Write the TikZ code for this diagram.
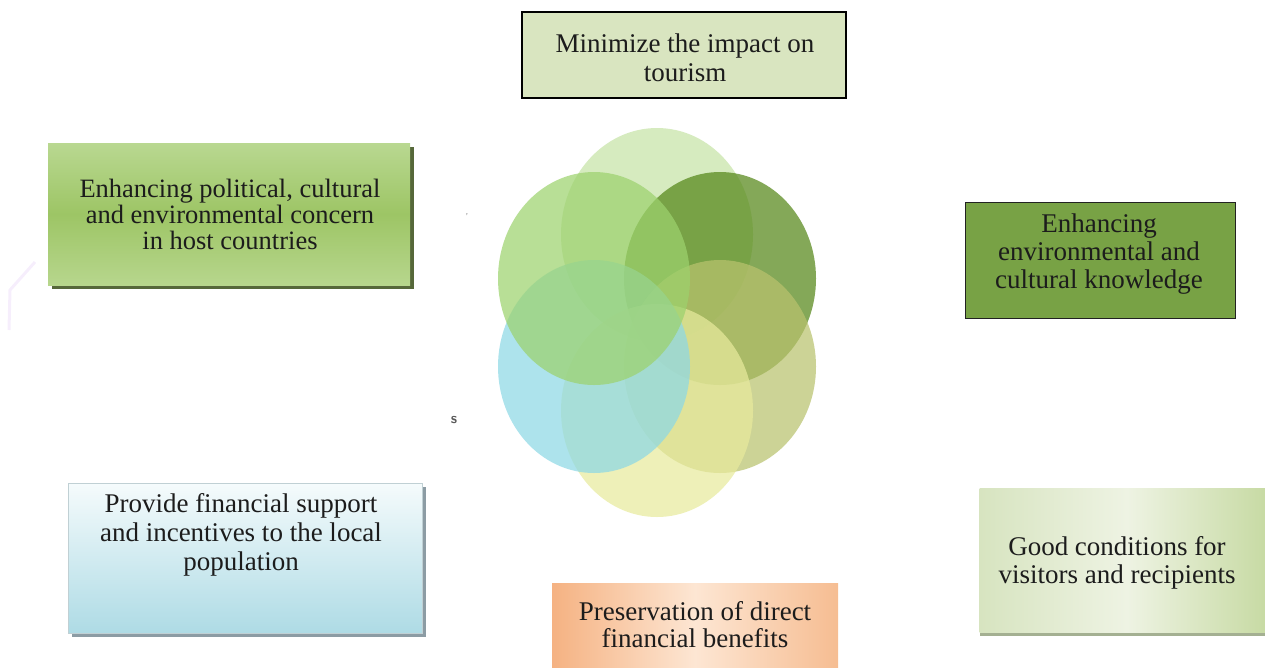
\documentclass[tikz,border=0pt]{standalone}
\usepackage{fontspec}
\setmainfont{Liberation Serif}
\usetikzlibrary{shadows}
\definecolor{inktext}{HTML}{1C1C1C}
\definecolor{petaltop}{HTML}{C6E3A7}
\definecolor{petalur}{HTML}{548617}
\definecolor{petallr}{HTML}{B9C26D}
\definecolor{petalbot}{HTML}{E7EA9C}
\definecolor{petalll}{HTML}{8DD8E5}
\definecolor{petalul}{HTML}{9CD26D}
\begin{document}
\begin{tikzpicture}[x=1pt,y=-1pt]
\tikzstyle{every node}+=[inner sep=0pt, align=center, text=inktext]
\tikzstyle{petal}=[fill opacity=0.72]
\tikzstyle{goalbox}=[rectangle, inner sep=0pt]
\useasboundingbox (0,0) rectangle (1265,667);
\fill [petal, fill=petaltop] (657,234.5) ellipse (96pt and 106.5pt);
\fill [petal, fill=petalur] (720,278.5) ellipse (96pt and 106.5pt);
\fill [petal, fill=petallr] (720,366.5) ellipse (96pt and 106.5pt);
\fill [petal, fill=petalbot] (657,410.5) ellipse (96pt and 106.5pt);
\fill [petal, fill=petalll] (594,366.5) ellipse (96pt and 106.5pt);
\fill [petal, fill=petalul] (594,278.5) ellipse (96pt and 106.5pt);
\draw [color={rgb,255:red,246;green,238;blue,252}, line width=3pt] (35,262) -- (10,290) -- (9,330);
\node (mark) [font=\sffamily\fontsize{10}{10}\selectfont, text=gray] at (467,217) {'};
\node (stray) [font=\sffamily\bfseries\fontsize{15}{15}\selectfont, text=black!65] at (454,420) {s};
\node (tourismbox) [goalbox, fill={rgb,255:red,217;green,229;blue,192}, draw=black, line width=1.2pt, minimum width=324pt, minimum height=86pt] at (684,55) {};
\node (tourism) [font=\fontsize{27}{29}\selectfont] at (685,58) {Minimize the impact on\\tourism};
\node (concernbox) [goalbox, top color={rgb,255:red,185;green,216;blue,145}, bottom color={rgb,255:red,183;green,214;blue,141}, middle color={rgb,255:red,157;green,197;blue,101}, drop shadow={shadow xshift=4pt, shadow yshift=-4pt, fill={rgb,255:red,86;green,104;blue,58}, opacity=1}, minimum width=362pt, minimum height=142pt] at (229,214) {};
\node (concern) [font=\fontsize{26.5}{26}\selectfont] at (230,214.5) {Enhancing political, cultural\\and environmental concern\\in host countries};
\node (knowledgebox) [goalbox, fill={rgb,255:red,120;green,162;blue,69}, draw={rgb,255:red,34;green,34;blue,34}, line width=1pt, minimum width=270pt, minimum height=116pt] at (1100,260) {};
\node (knowledge) [font=\fontsize{27}{28}\selectfont] at (1099,254) {Enhancing\\environmental and\\cultural knowledge};
\node (supportbox) [goalbox, top color={rgb,255:red,245;green,251;blue,252}, bottom color={rgb,255:red,174;green,219;blue,229}, draw={rgb,255:red,192;green,208;blue,212}, drop shadow={shadow xshift=4pt, shadow yshift=-4pt, fill={rgb,255:red,140;green,156;blue,164}, opacity=1}, minimum width=354pt, minimum height=150pt] at (245,558) {};
\node (support) [font=\fontsize{27}{29}\selectfont] at (241,535) {Provide financial support\\and incentives to the local\\population};
\node (benefitsbox) [goalbox, left color={rgb,255:red,245;green,178;blue,130}, right color={rgb,255:red,246;green,189;blue,146}, middle color={rgb,255:red,253;green,230;blue,211}, minimum width=286pt, minimum height=84pt] at (695,625) {};
\node (benefits) [font=\fontsize{27}{27}\selectfont] at (695,625) {Preservation of direct\\financial benefits};
\node (visitorsbox) [goalbox, left color={rgb,255:red,215;green,228;blue,192}, right color={rgb,255:red,197;green,217;blue,160}, middle color={rgb,255:red,238;green,243;blue,227}, drop shadow={shadow xshift=0pt, shadow yshift=-4pt, fill={rgb,255:red,164;green,176;blue,146}, opacity=1}, minimum width=295pt, minimum height=144pt] at (1127,560) {};
\node (visitors) [font=\fontsize{27}{28}\selectfont] at (1117,562.5) {Good conditions for\\visitors and recipients};
\end{tikzpicture}
\end{document}
